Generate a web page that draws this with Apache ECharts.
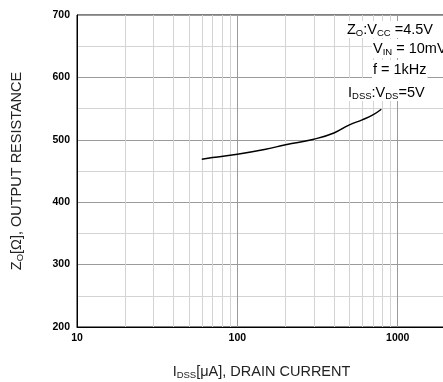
<!DOCTYPE html>
<html>
<head>
<meta charset="utf-8">
<script src="https://cdn.jsdelivr.net/npm/echarts@6/dist/echarts.min.js"></script>
<style>
  html, body { margin: 0; padding: 0; background: #fff; }
  #chart { width: 443px; height: 382px; }
</style>
</head>
<body>
<div id="chart"></div>
<script>
// drain current (uA) vs output resistance (ohm)
const currentUA = [60, 70, 100, 150, 200, 300, 400, 500, 600, 700, 790];
const resistance = [469, 471.5, 477, 485, 492, 501, 511, 524, 532, 540, 549];
const minorX = [20, 30, 40, 50, 60, 70, 80, 90, 200, 300, 400, 500, 600, 700, 800, 900, 2000];
const majorX = [100, 1000];
const xTicks = [10, 100, 1000];
const yTicks = [200, 300, 400, 500, 600, 700];

const font = 'Liberation Sans, Arial, sans-serif';
const chart = echarts.init(document.getElementById('chart'));

const lineData = currentUA.map((c, i) => [c, resistance[i]]);

const richText = {
  t: { fontFamily: font, fontSize: 14.5, color: '#222', lineHeight: 17 },
  s: { fontFamily: font, fontSize: 9.5, color: '#222', lineHeight: 17, verticalAlign: 'bottom' },
};
const richLegend = {
  t: { fontFamily: font, fontSize: 14.5, fill: '#000', lineHeight: 17 },
  s: { fontFamily: font, fontSize: 9.5, fill: '#000', lineHeight: 17, verticalAlign: 'bottom' },
};

chart.setOption({
  animation: false,
  grid: {
    left: 77, top: 15, width: 369, height: 312,
    outerBoundsMode: 'none',
    containLabel: false,
    show: true, borderColor: '#000', borderWidth: 1,
  },
  xAxis: {
    type: 'log',
    logBase: 10,
    min: 10,
    max: 2000,
    axisLine: { show: true, lineStyle: { color: '#000', width: 1 } },
    axisTick: { show: false },
    splitLine: { show: false },
    axisLabel: {
      color: '#000', fontFamily: font, fontSize: 10.5, fontWeight: 'bold', margin: 6,
      formatter: (v) => (xTicks.includes(v) ? String(v) : ''),
    },
    name: '{t|I}{s|DSS}{t|[μA], DRAIN CURRENT}',
    nameLocation: 'middle',
    nameGap: 36,
    nameTextStyle: { rich: richText },
  },
  yAxis: {
    type: 'value',
    min: 200,
    max: 700,
    interval: 100,
    axisLine: { show: true, lineStyle: { color: '#000', width: 1 } },
    axisTick: { show: false },
    splitLine: { show: true, lineStyle: { color: '#9a9a9a', width: 1 } },
    minorTick: { show: false, splitNumber: 2 },
    minorSplitLine: { show: true, lineStyle: { color: '#d4d4d4', width: 1 } },
    axisLabel: {
      color: '#000', fontFamily: font, fontSize: 10.5, fontWeight: 'bold', margin: 7,
      formatter: (v) => (yTicks.includes(v) ? String(v) : ''),
    },
    name: '{t|Z}{s|O}{t|[Ω], OUTPUT RESISTANCE}',
    nameLocation: 'middle',
    nameGap: 52,
    nameTextStyle: { rich: richText },
  },
  series: [
    {
      type: 'line',
      data: lineData,
      smooth: true,
      symbol: 'none',
      lineStyle: { color: '#000', width: 1.5 },
      z: 5,
      markLine: {
        silent: true,
        symbol: 'none',
        label: { show: false },
        animation: false,
        data: minorX.map((v) => ({ xAxis: v, lineStyle: { color: '#d4d4d4', width: 1, type: 'solid' } }))
          .concat(majorX.map((v) => ({ xAxis: v, lineStyle: { color: '#9a9a9a', width: 1, type: 'solid' } }))),
      },
    },
  ],
  graphic: [
    {
      type: 'text', left: 346, top: 21, z: 10,
      style: { text: '{t|Z}{s|O}{t|:V}{s|CC}{t| =4.5V}', backgroundColor: '#fff', padding: [0, 1], rich: richLegend },
    },
    {
      type: 'text', left: 372, top: 39, z: 10,
      style: { text: '{t|V}{s|IN}{t| = 10mV}', backgroundColor: '#fff', padding: [1, 1], rich: richLegend },
    },
    {
      type: 'text', left: 372, top: 60, z: 10,
      style: { text: '{t|f = 1kHz}', backgroundColor: '#fff', padding: [1, 1], rich: richLegend },
    },
    {
      type: 'text', left: 346, top: 78, z: 10,
      style: { text: '{t|I}{s|DSS}{t|:V}{s|DS}{t|=5V}', backgroundColor: '#fff', padding: [6, 2, 0, 2], rich: richLegend },
    },
  ],
});
</script>
</body>
</html>
